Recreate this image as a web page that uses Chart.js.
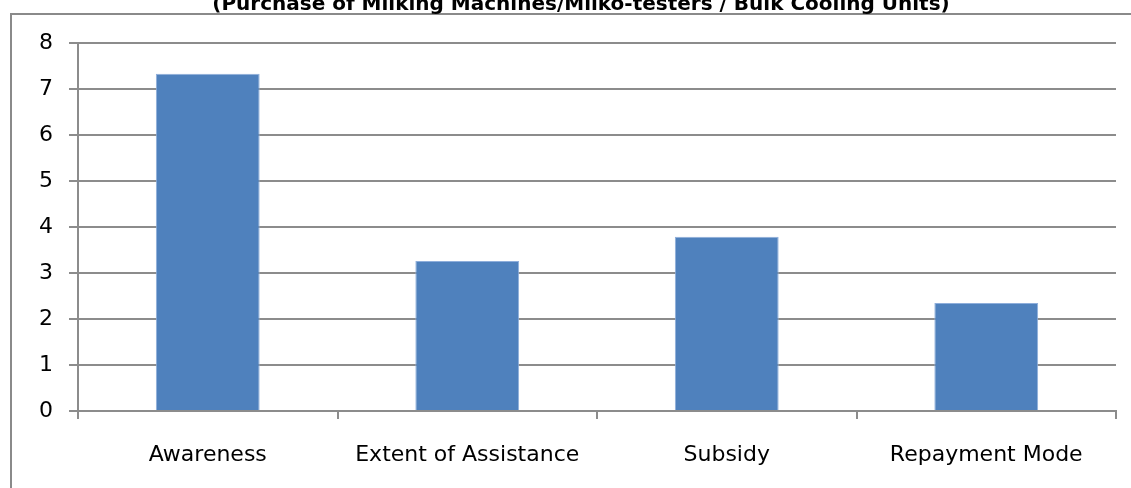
<!DOCTYPE html>
<html>
<head>
<meta charset="utf-8">
<script src="https://cdn.jsdelivr.net/npm/chart.js@4/dist/chart.umd.min.js"></script>
<style>
  html, body { margin: 0; padding: 0; background: #fff; overflow: hidden; }
  #wrap { position: absolute; left: 0; top: 0; width: 1131px; height: 488px; }
  #title {
    position: absolute; left: 0; top: -7px; width: 1162px;
    text-align: center; white-space: nowrap;
    font: bold 20px/20px "DejaVu Sans", sans-serif; color: #000;
  }
</style>
</head>
<body>
<div id="wrap"><canvas id="chart"></canvas></div>
<div id="title"></div>
<script>
// Survey factors for credit-linked purchase of dairy equipment
const titleText = '(Purchase of Milking Machines/Milko-testers / Bulk Cooling Units)';
const categories = ['Awareness', 'Extent of Assistance', 'Subsidy', 'Repayment Mode'];
const scores = [7.33, 3.26, 3.79, 2.35];
const yTicks = [0, 1, 2, 3, 4, 5, 6, 7, 8];

const AXIS_GREY = '#8c8c8c';
const LABEL_FONT = { family: '"DejaVu Sans", sans-serif', size: 22 };

document.getElementById('title').textContent = titleText;

// Grey frame around the chart body
const framePlugin = {
  id: 'frame',
  beforeDraw(chart) {
    const ctx = chart.ctx;
    ctx.save();
    ctx.strokeStyle = '#8a8a8a';
    ctx.lineWidth = 2;
    ctx.strokeRect(11, 14, 1200, 600);
    ctx.restore();
  }
};

new Chart(document.getElementById('chart'), {
  type: 'bar',
  data: {
    labels: categories,
    datasets: [{
      data: scores,
      backgroundColor: '#4F81BD',
      borderColor: '#8eaedb',
      borderWidth: 1,
      barPercentage: 1,
      categoryPercentage: 0.4
    }]
  },
  options: {
    responsive: true,
    maintainAspectRatio: false,
    animation: false,
    layout: { padding: { left: 0, right: 15, top: 43, bottom: 17 } },
    plugins: {
      legend: { display: false },
      tooltip: { enabled: false },
      title: { display: false }
    },
    scales: {
      x: {
        offset: true,
        afterFit(scale) { scale.height = 60; },
        border: { color: AXIS_GREY, width: 2 },
        grid: {
          offset: true,
          drawOnChartArea: false,
          drawTicks: true,
          tickLength: 8,
          color: AXIS_GREY,
          lineWidth: 2
        },
        ticks: { color: '#000', font: LABEL_FONT, padding: 23, maxRotation: 0 }
      },
      y: {
        min: 0,
        max: 8,
        afterFit(scale) { scale.width = 78; },
        afterBuildTicks(scale) { scale.ticks = yTicks.map(v => ({ value: v })); },
        border: { color: AXIS_GREY, width: 2 },
        grid: {
          color: AXIS_GREY,
          lineWidth: 2,
          tickLength: 9
        },
        ticks: { color: '#000', font: LABEL_FONT, padding: 16 }
      }
    }
  },
  plugins: [framePlugin]
});
</script>
</body>
</html>
